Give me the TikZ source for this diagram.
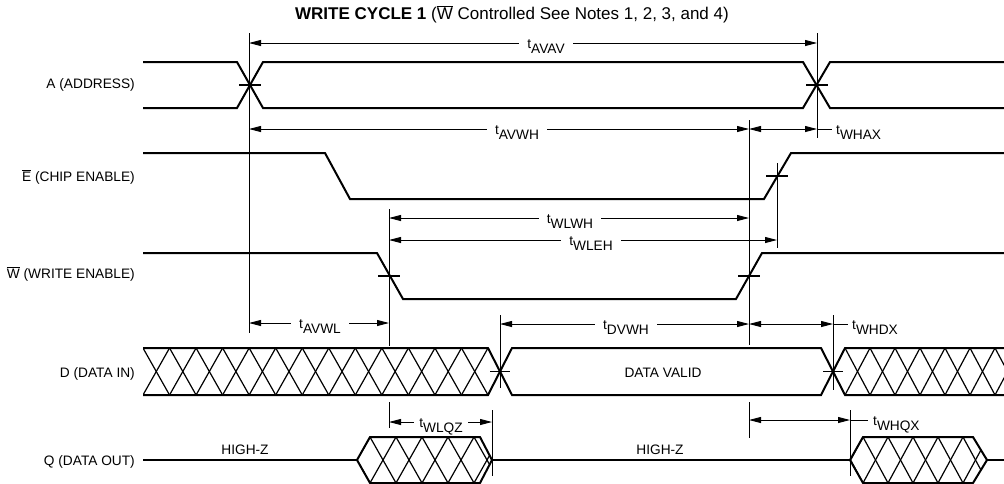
\documentclass[tikz,border=0pt]{standalone}
\usepackage{fontspec}
\setmainfont{Liberation Sans}
\usetikzlibrary{arrows.meta}
\newcommand\ovl[1]{\ensuremath{\overline{\hbox{#1}}}}
\newcommand\tsb[1]{t\raisebox{-5pt}{#1}}
\tikzset{
  sig/.style={line width=2pt, line join=miter},
  hatchl/.style={line width=1.2pt},
  ext/.style={line width=0.9pt},
  tick/.style={line width=1.1pt},
  dimline/.style={line width=0.9pt, {Triangle[length=12pt,width=6pt]}-{Triangle[length=12pt,width=6pt]}},
  lbl/.style={font=\fontsize{13.7}{16}\selectfont, anchor=east, inner sep=0pt},
  txt/.style={font=\fontsize{13.7}{16}\selectfont, inner sep=0pt},
  tlab/.style={font=\fontsize{13.7}{16}\selectfont, fill=white, inner xsep=8pt, inner ysep=1pt, anchor=base, yshift=-5pt},
  rlab/.style={font=\fontsize{13.7}{16}\selectfont, anchor=base west, inner sep=0pt, yshift=-5pt}
}
\begin{document}
\begin{tikzpicture}[x=1pt,y=-1pt]
\useasboundingbox[fill=white] (0,0) rectangle (1004,483);

% title
\node[font=\fontsize{17}{20}\selectfont, inner sep=0pt] (title) at (512,14)
  {\textbf{WRITE CYCLE 1} (\ovl{W} Controlled See Notes 1, 2, 3, and 4)};

% left labels
\node[lbl] (lA) at (135,85) {A (ADDRESS)};
\node[lbl] (lE) at (135,177) {\ovl{E} (CHIP ENABLE)};
\node[lbl] (lW) at (135,274) {\ovl{W} (WRITE ENABLE)};
\node[lbl] (lD) at (135,374) {D (DATA IN)};
\node[lbl] (lQ) at (135,462) {Q (DATA OUT)};

% extension lines
\draw[ext] (249,33) -- (249,333);
\draw[ext] (817,33) -- (817,138);
\draw[ext] (749,120) -- (749,345);
\draw[ext] (749,402) -- (749,438);
\draw[ext] (389,209) -- (389,346);
\draw[ext] (389,402) -- (389,428);
\draw[ext] (777,163) -- (777,248);
\draw[ext] (500,315) -- (500,388);
\draw[ext] (833,315) -- (833,390);
\draw[ext] (492,410) -- (492,476);
\draw[ext] (850,410) -- (850,476);

% A (address)
\draw[sig] (143,62) -- (237,62) -- (263,108) -- (803,108) -- (830,62) -- (1004,62);
\draw[sig] (143,108) -- (237,108) -- (263,62) -- (803,62) -- (830,108) -- (1004,108);
\draw[tick] (239,85) -- (261,85);
\draw[tick] (806,85) -- (828,85);

% E
\draw[sig] (143,153) -- (325,153) -- (350,199) -- (764,199) -- (791,153) -- (1004,153);
\draw[tick] (766,176) -- (788,176);

% W
\draw[sig] (143,253) -- (377,253) -- (403,299) -- (736,299) -- (762,253) -- (1004,253);
\draw[tick] (378,276) -- (400,276);
\draw[tick] (738,276) -- (760,276);

% D hatched left
\begin{scope}
\clip (143,348) -- (488,348) -- (500,371.5) -- (488,395) -- (143,395) -- cycle;
\foreach \k in {0,...,13} {
  \draw[hatchl] ({143+\k*26.54},348) -- ({143+(\k+1)*26.54},395);
  \draw[hatchl] ({143+\k*26.54},395) -- ({143+(\k+1)*26.54},348);
}
\end{scope}
\draw[sig] (143,348) -- (488,348) -- (500,371.5) -- (488,395) -- (143,395);
% D valid
\draw[sig] (500,371.5) -- (512,348) -- (821,348) -- (833,371.5) -- (821,395) -- (512,395) -- cycle;
\node[txt] (dv) at (663,373) {DATA VALID};
% D hatched right
\begin{scope}
\clip (833,371.5) -- (845,348) -- (1010,348) -- (1010,395) -- (845,395) -- cycle;
\foreach \k in {-1,...,7} {
  \draw[hatchl] ({845+\k*25},348) -- ({845+(\k+1)*25},395);
  \draw[hatchl] ({845+\k*25},395) -- ({845+(\k+1)*25},348);
}
\end{scope}
\draw[sig] (1004,348) -- (845,348) -- (833,371.5) -- (845,395) -- (1004,395);
\draw[tick] (490,371.5) -- (510,371.5);
\draw[tick] (823,371.5) -- (843,371.5);

% Q
\draw[sig] (143,460) -- (357,460);
\begin{scope}
\clip (357,460) -- (370,437) -- (480,437) -- (492,460) -- (480,483) -- (370,483) -- cycle;
\foreach \k in {-1,...,5} {
  \draw[hatchl] ({370+\k*26},437) -- ({370+(\k+1)*26},483);
  \draw[hatchl] ({370+\k*26},483) -- ({370+(\k+1)*26},437);
}
\end{scope}
\draw[sig] (357,460) -- (370,437) -- (480,437) -- (492,460) -- (480,483) -- (370,483) -- cycle;
\draw[sig] (492,460) -- (850,460);
\begin{scope}
\clip (850,460) -- (863,437) -- (973,437) -- (987,460) -- (973,483) -- (863,483) -- cycle;
\foreach \k in {-1,...,5} {
  \draw[hatchl] ({863+\k*25},437) -- ({863+(\k+1)*25},483);
  \draw[hatchl] ({863+\k*25},483) -- ({863+(\k+1)*25},437);
}
\end{scope}
\draw[sig] (850,460) -- (863,437) -- (973,437) -- (987,460) -- (973,483) -- (863,483) -- cycle;
\draw[sig] (987,460) -- (1004,460);
\node[txt] (hz1) at (245,450) {HIGH-Z};
\node[txt] (hz2) at (660,450) {HIGH-Z};

% timing dimensions
\draw[dimline] (249,43) -- (817,43);
\node[tlab] (avav) at (546,43) {\tsb{AVAV}};

\draw[dimline] (249,129) -- (749,129);
\node[tlab] (avwh) at (517,129) {\tsb{AVWH}};
\draw[dimline] (749,129) -- (817,129);
\draw[ext] (817,129) -- (832,129);
\node[rlab] (whax) at (836,129) {\tsb{WHAX}};

\draw[dimline] (389,218) -- (749,218);
\node[tlab] (wlwh) at (570,218) {\tsb{WLWH}};
\draw[dimline] (389,240) -- (777,240);
\node[tlab] (wleh) at (591,240) {\tsb{WLEH}};

\draw[dimline] (249,323) -- (389,323);
\node[tlab] (avwl) at (320,323) {\tsb{AVWL}};
\draw[dimline] (500,324) -- (749,324);
\node[tlab] (dvwh) at (626,324) {\tsb{DVWH}};
\draw[dimline] (749,324) -- (833,324);
\draw[ext] (833,324) -- (848,324);
\node[rlab] (whdx) at (852,324) {\tsb{WHDX}};

\draw[dimline] (389,422) -- (492,422);
\node[tlab, inner xsep=5pt] (wlqz) at (441,422) {\tsb{WLQZ}};
\draw[dimline] (749,420) -- (850,420);
\draw[ext] (850,420) -- (868,420);
\node[rlab] (whqx) at (873,420) {\tsb{WHQX}};
\end{tikzpicture}
\end{document}
